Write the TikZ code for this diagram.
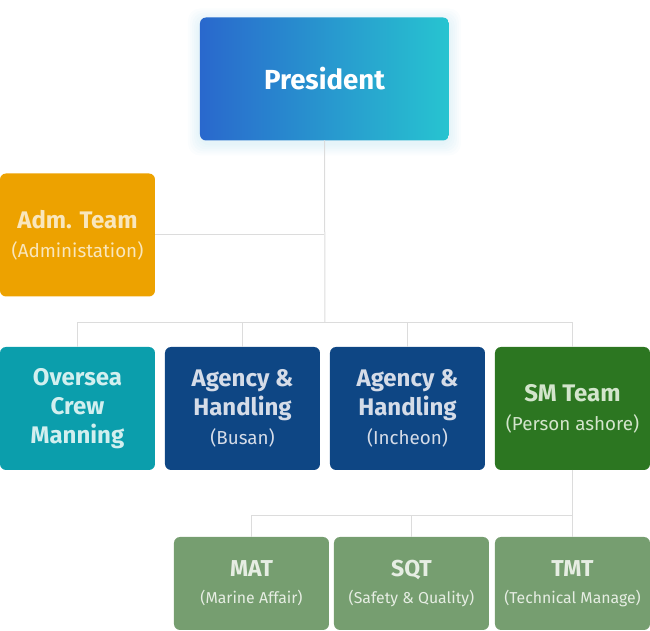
\documentclass[tikz,border=0pt]{standalone}
\usepackage{fontspec}
\setmainfont{Fira Sans}
\usetikzlibrary{backgrounds}

\definecolor{presL}{HTML}{2968CD}
\definecolor{presR}{HTML}{27C4D0}
\definecolor{admFill}{HTML}{EDA200}
\definecolor{admText}{HTML}{F9E6BC}
\definecolor{crewFill}{HTML}{0B9EAC}
\definecolor{crewText}{HTML}{D2EFEF}
\definecolor{agFill}{HTML}{0E4684}
\definecolor{agText}{HTML}{D5DCE8}
\definecolor{smFill}{HTML}{2C7621}
\definecolor{smText}{HTML}{D3E5CC}
\definecolor{subFill}{HTML}{769E70}
\definecolor{subText}{HTML}{E6EDE3}
\definecolor{lineGray}{HTML}{DCDCDC}

\newcommand{\subtxt}[1]{{\mdseries\fontsize{9.4}{15.5}\selectfont #1}}
\newcommand{\smalltxt}[1]{{\mdseries\fontsize{7.9}{13.5}\selectfont #1}}

\begin{document}
\begin{tikzpicture}[
  x=0.5pt, y=-0.5pt,
  box/.style={rounded corners=3pt, align=center, inner sep=0pt, outer sep=0pt,
    minimum width=77.5pt, minimum height=61.5pt,
    font=\bfseries\fontsize{12}{14.5}\selectfont},
  subbox/.style={box, fill=subFill, text=subText, minimum height=46.5pt,
    font=\bfseries\fontsize{11.5}{13.5}\selectfont},
  link/.style={draw=lineGray, line width=0.5pt}
]
\useasboundingbox (0,0) rectangle (650,631);

% top
\node[box, left color=presL, right color=presR, text=white,
  minimum width=124.5pt, font=\bfseries\fontsize{13.8}{16}\selectfont] (pres) at (324.5,79) {President};
\node[box, fill=admFill, text=admText] (adm) at (77.5,235)
  {Adm. Team\\\subtxt{(Administation)}};

% second row
\node[box, fill=crewFill, text=crewText] (crew) at (77.5,408.5) {Oversea\\Crew\\Manning};
\node[box, fill=agFill, text=agText] (busan) at (242.5,408.5) {Agency \&\\Handling\\\subtxt{(Busan)}};
\node[box, fill=agFill, text=agText] (incheon) at (407.5,408.5) {Agency \&\\Handling\\\subtxt{(Incheon)}};
\node[box, fill=smFill, text=smText] (sm) at (572.5,408.5) {SM Team\\\subtxt{(Person ashore)}};

% SM team members
\node[subbox] (mat) at (251.5,583.5) {MAT\\\smalltxt{(Marine Affair)}};
\node[subbox] (sqt) at (411.5,583.5) {SQT\\\smalltxt{(Safety \& Quality)}};
\node[subbox] (tmt) at (572.5,583.5) {TMT\\\smalltxt{(Technical Manage)}};

\coordinate (bus) at (325,323);
\coordinate (smbus) at (572.5,516);

\begin{scope}[on background layer]
  \foreach \g in {2,4,...,12}
    \fill[presR!60!presL, opacity=0.02, rounded corners=6pt]
      ([shift={(-\g,-\g+3)}]pres.north west) rectangle ([shift={(\g,\g+3)}]pres.south east);
\end{scope}

\draw[link] (pres.south) -- (bus);
\draw[link] (adm.east) -- (adm.east -| pres.south);
\draw[link] (crew.north) -- (crew.north |- bus) -- (sm.north |- bus) -- (sm.north);
\draw[link] (busan.north) -- (busan.north |- bus);
\draw[link] (incheon.north) -- (incheon.north |- bus);

\draw[link] (sm.south) -- (tmt.north);
\draw[link] (mat.north) -- (mat.north |- smbus) -- (smbus);
\draw[link] (sqt.north) -- (sqt.north |- smbus);

\end{tikzpicture}
\end{document}
